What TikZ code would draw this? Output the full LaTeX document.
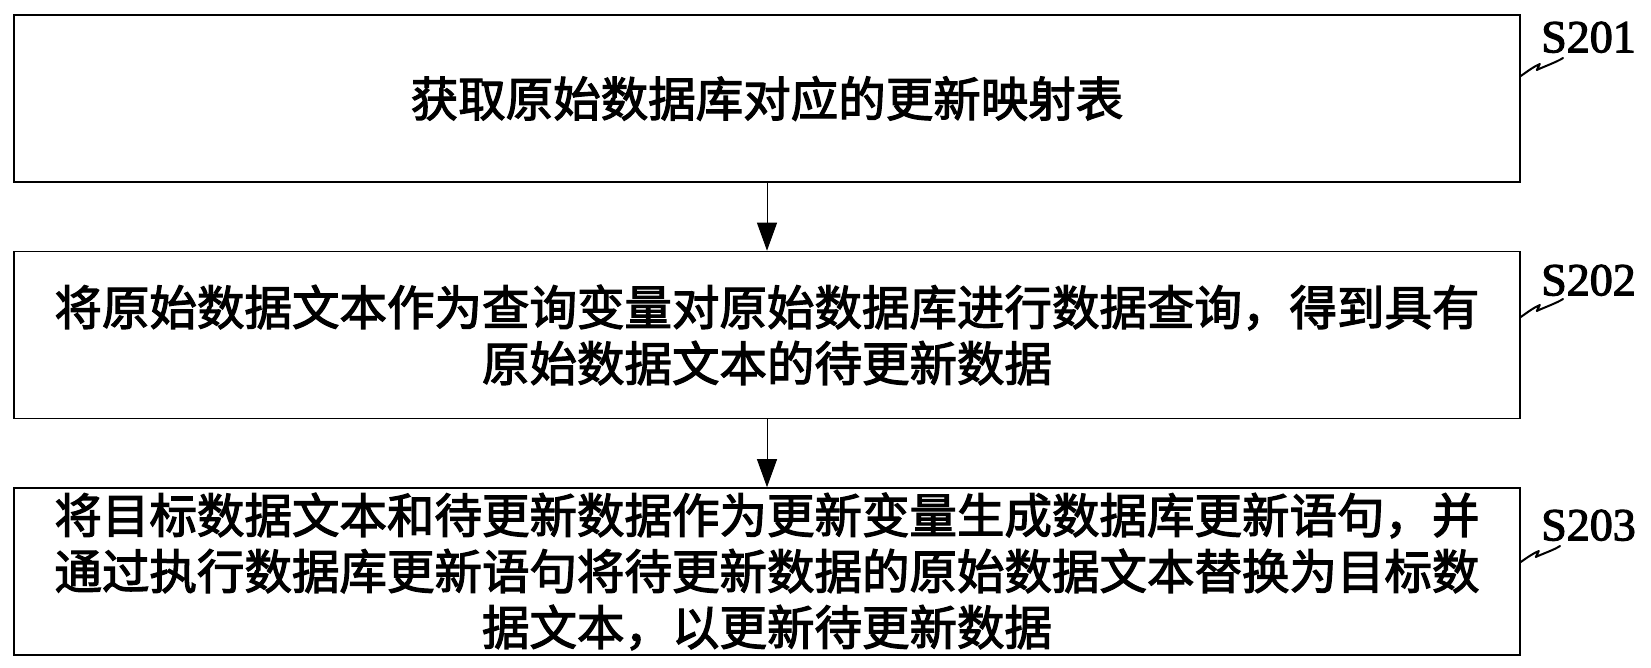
\documentclass[tikz,border=0pt]{standalone}
\usepackage{fontspec}
\setmainfont{Liberation Serif}
\newfontfamily\cjk{Noto Sans CJK SC}[BoldFont=*,BoldFeatures={FakeBold=2.5}]
\newfontfamily\tagfont{Liberation Serif}[BoldFont=*,BoldFeatures={FakeBold=2.5}]
\usetikzlibrary{arrows.meta}
\tikzset{
  stepbox/.style={draw,line width=1.6pt,minimum width=1506pt,minimum height=167pt,
    align=center,inner sep=0pt,font=\cjk\bfseries\fontsize{47.5pt}{56pt}\selectfont},
  flow/.style={line width=1pt,-{Triangle[length=28pt,width=20pt]}},
  tag/.style={font=\tagfont\bfseries\fontsize{46pt}{50pt}\selectfont,anchor=south west,inner sep=0pt},
  wiggle/.style={line width=2pt,line cap=round,line join=round}
}
\begin{document}
\begin{tikzpicture}[x=1pt,y=1pt]
\useasboundingbox (0,0) rectangle (1651,-668);
\coordinate (get) at (767,-98.5);
\coordinate (query) at (767,-335);
\coordinate (update) at (767,-571.5);

\node[stepbox] (get) at (get){获取原始数据库对应的更新映射表};
\node[stepbox] (query) at (query){将原始数据文本作为查询变量对原始数据库进行数据查询，得到具有\\原始数据文本的待更新数据};
\node[stepbox] (update) at (update){将目标数据文本和待更新数据作为更新变量生成数据库更新语句，并\\通过执行数据库更新语句将待更新数据的原始数据文本替换为目标数\\据文本，以更新待更新数据};

\draw[flow] (get)--(query);
\draw[flow] (query)--(update);

\node[tag] (s1) at (1541,-53){S201};
\node[tag] (s2) at (1541,-296){S202};
\node[tag] (s3) at (1541,-541){S203};

% squiggles from the boxes to the step labels
\coordinate (w1) at (1563,-58);
\coordinate (w2) at (1563,-299);
\coordinate (w3) at (1560,-546);
\draw[wiggle] ([yshift=22.5pt]get.east) .. controls +(7,5) and +(-5,-2) .. ++(19,12) -- ++(-3,-6) .. controls +(6,3) and +(-6,-4) .. (w1);
\draw[wiggle] ([yshift=18pt]query.east) .. controls +(7,5) and +(-5,-2) .. ++(19,12) -- ++(-3,-6) .. controls +(6,3) and +(-6,-4) .. (w2);
\draw[wiggle] ([yshift=9.5pt]update.east) .. controls +(7,5) and +(-5,-2) .. ++(18,11) -- ++(-3,-6) .. controls +(6,3) and +(-6,-4) .. (w3);

\end{tikzpicture}
\end{document}
